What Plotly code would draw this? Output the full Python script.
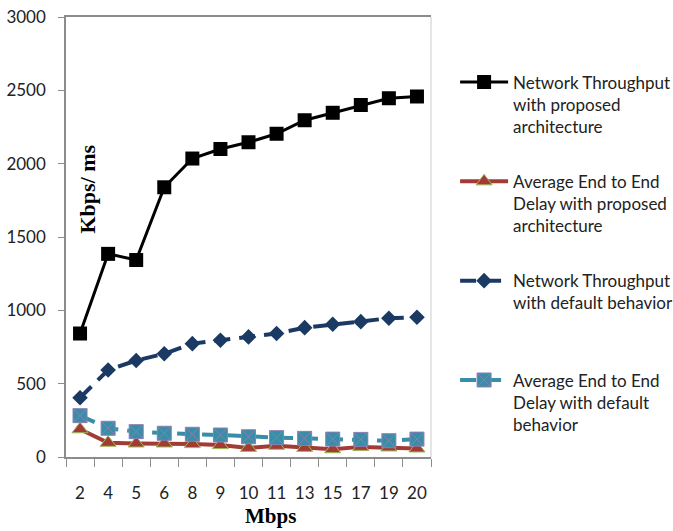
import plotly.graph_objects as go

# Link speed categories (Mbps)
categories = ["2", "4", "5", "6", "8", "9", "10", "11", "13", "15", "17", "19", "20"]

# Measured values (Kbps / ms)
throughput_proposed = [842, 1385, 1343, 1839, 2035, 2100, 2146, 2204, 2296, 2347, 2400, 2446, 2458]
delay_proposed = [189, 97, 92, 92, 88, 81, 62, 76, 62, 53, 69, 65, 58]
throughput_default = [404, 593, 658, 704, 773, 796, 819, 842, 882, 905, 923, 946, 953]
delay_default = [282, 196, 173, 162, 155, 150, 138, 132, 127, 122, 120, 111, 122]

y_ticks = [0, 500, 1000, 1500, 2000, 2500, 3000]

names = [
    "Network Throughput<br>with proposed<br>architecture",
    "Average End to End<br>Delay with proposed<br>architecture",
    "Network Throughput<br>with default behavior<br> ",
    "Average End to End<br>Delay with default<br>behavior",
]

SANS = "Lato, Liberation Sans, Arial"
SERIF = "Liberation Serif, DejaVu Serif, serif"

fig = go.Figure()

fig.add_trace(go.Scatter(
    x=categories, y=throughput_proposed, name=names[0], legendgroup="g1",
    mode="lines+markers",
    line=dict(color="#000000", width=3),
    marker=dict(symbol="square", size=14, color="#000000"),
))
fig.add_trace(go.Scatter(
    x=categories, y=delay_proposed, name=names[1], legendgroup="g2",
    mode="lines+markers",
    line=dict(color="#A33A35", width=4),
    marker=dict(symbol="triangle-up", size=14, color="#A33A35",
                line=dict(color="#9BBB59", width=1)),
))
fig.add_trace(go.Scatter(
    x=categories, y=throughput_default, name=names[2], legendgroup="g3",
    mode="lines+markers",
    line=dict(color="#1B3A63", width=4, dash="16px,9px"),
    marker=dict(symbol="diamond", size=12, color="#1B3A63"),
))
fig.add_trace(go.Scatter(
    x=categories, y=delay_default, name=names[3], legendgroup="g4",
    mode="lines+markers",
    line=dict(color="#3A8DA6", width=4, dash="16px,9px"),
    marker=dict(symbol="square-x", size=14, color="#3A8DA6",
                line=dict(color="#8A7FB5", width=1)),
))

fig.update_layout(
    width=673, height=531,
    margin=dict(l=66, r=242, t=17, b=74, autoexpand=False),
    paper_bgcolor="white", plot_bgcolor="white",
    font=dict(family=SANS, size=17, color="#222222"),
    showlegend=True,
    legend=dict(
        x=1.066, xanchor="left", y=0.892, yanchor="top",
        valign="top", tracegroupgap=30, itemwidth=48,
        font=dict(family=SANS, size=17, color="#222222"),
        bgcolor="rgba(0,0,0,0)",
    ),
    xaxis=dict(
        type="category", tickson="boundaries",
        showline=True, linecolor="#8c8c8c", linewidth=1.5, mirror=True,
        ticks="outside", ticklen=8, tickcolor="#8c8c8c",
        showgrid=False, zeroline=False,
        tickangle=0, ticklabelstandoff=20,
        tickfont=dict(family=SANS, size=17, color="#222222"),
        range=[-0.5, 12.5],
    ),
    yaxis=dict(
        range=[0, 3000], tickvals=y_ticks,
        showline=True, linecolor="#8c8c8c", linewidth=1.5,
        ticks="outside", ticklen=6, tickcolor="#8c8c8c",
        showgrid=False, zeroline=False,
        ticklabelstandoff=9,
        tickfont=dict(family=SANS, size=17, color="#222222"),
    ),
    annotations=[
        dict(text="<b>Mbps</b>", xref="paper", yref="paper", x=0.56, y=-0.166,
             xanchor="center", yanchor="bottom", showarrow=False,
             font=dict(family=SERIF, size=21, color="#000000")),
        dict(text="<b>Kbps/ ms</b>", xref="paper", yref="paper", x=0.06, y=0.61,
             xanchor="center", yanchor="middle", showarrow=False, textangle=-90,
             font=dict(family=SERIF, size=22, color="#000000")),
    ],
    shapes=[
        # faint right border of the plot frame
        dict(type="line", xref="paper", yref="paper", x0=1, x1=1, y0=0, y1=1,
             line=dict(color="#dddddd", width=1.5)),
        # pink stamp partly visible in the lower-right corner
        dict(type="circle", xref="paper", yref="paper",
             x0=1.77, x1=1.98, y0=-0.28, y1=-0.10,
             line=dict(color="#FFC6C6", width=14)),
    ],
)

fig.write_html("out.html")
